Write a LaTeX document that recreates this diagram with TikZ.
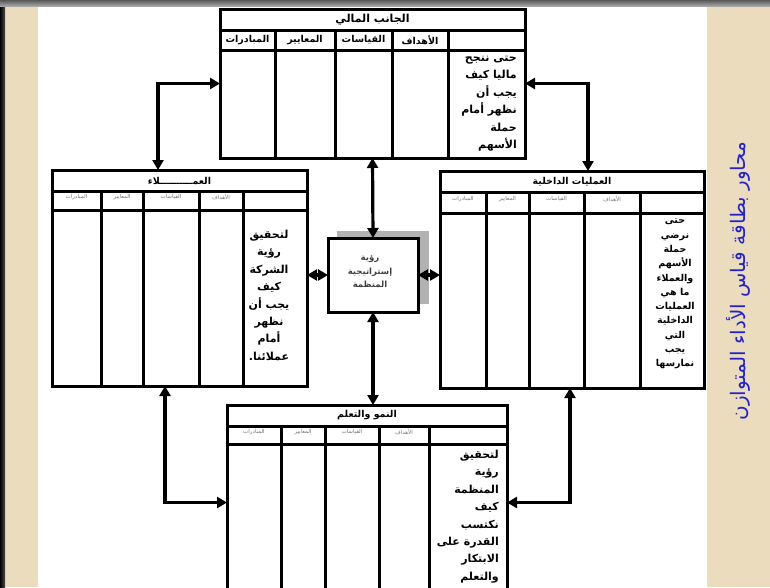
\documentclass[tikz,border=0pt]{standalone}
\usepackage{fontspec}
\usetikzlibrary{arrows.meta}
\newfontfamily\arabicfont[Script=Arabic]{DejaVu Sans}
\TeXXeTstate=1
\newcommand{\artxt}[1]{\beginR #1\endR}
\definecolor{beige}{RGB}{234,220,188}
\definecolor{ttlblue}{RGB}{35,35,205}
\tikzset{
  tbl/.style={draw=black, line width=3pt, fill=white, inner sep=0pt, outer sep=0pt},
  tline/.style={line width=3pt},
  conn/.style={line width=3.2pt, {Triangle[length=10pt,width=11pt]}-{Triangle[length=10pt,width=11pt]}},
  bigtitle/.style={font=\arabicfont\bfseries\fontsize{11}{13}\selectfont, inner sep=0pt},
  smalltitle/.style={font=\arabicfont\bfseries\fontsize{9.5}{11}\selectfont, inner sep=0pt},
  bighead/.style={font=\arabicfont\bfseries\fontsize{9.5}{11}\selectfont, inner sep=0pt},
  smallhead/.style={font=\arabicfont\fontsize{5.5}{7}\selectfont, text=black!55, inner sep=0pt},
  coltext/.style={font=\arabicfont\bfseries\fontsize{11}{17.4}\selectfont, inner sep=0pt},
  midtext/.style={font=\arabicfont\bfseries\fontsize{8.5}{13.5}\selectfont, text=black!75, inner sep=0pt, align=center},
}
\begin{document}
\begin{tikzpicture}[x=1pt,y=-1pt]
\useasboundingbox (0,0) rectangle (770,587);
\clip (0,0) rectangle (770,587);
% background
\fill[white] (0,0) rectangle (770,587);
\fill[beige] (0,0) rectangle (38,587);
\fill[beige] (707,0) rectangle (770,587);
\shade[left color=black, right color=black!70] (0,6) rectangle (5,587);
\shade[top color=black!65, bottom color=black!35] (0,0) rectangle (770,6);

% ===== top box: financial =====
\node[tbl, minimum width=305pt, minimum height=149pt] (fin) at (372.5,83.5) {};
\draw[tline] (220,30) -- (525,30) (220,50) -- (525,50);
\foreach \x in {275,335,392,448} \draw[tline] (\x,30) -- (\x,158);
\node[bigtitle] (finT) at (372.5,19.5) {\artxt{الجانب المالي}};
\node[bighead] (finH1) at (420,40) {\artxt{الأهداف}};
\node[bighead] (finH2) at (363.5,40) {\artxt{القياسات}};
\node[bighead] (finH3) at (305,40) {\artxt{المعايير}};
\node[bighead] (finH4) at (247.5,40) {\artxt{المبادرات}};
\node[coltext, align=right, anchor=north east] (finX) at (517,56)
  {\artxt{حتى ننجح}\\\artxt{ماليا كيف}\\\artxt{يجب أن}\\\artxt{نظهر أمام}\\\artxt{حملة}\\\artxt{الأسهم}};

% ===== left box: customers =====
\node[tbl, minimum width=255pt, minimum height=216pt] (cus) at (179.5,278) {};
\draw[tline] (52,191) -- (307,191) (52,210) -- (307,210);
\foreach \x in {101,143,199,243} \draw[tline] (\x,191) -- (\x,386);
\node[smalltitle] (cusT) at (179.5,180.5) {\artxt{العمــــــــــلاء}};
\node[smallhead] (cusH1) at (221,197) {\artxt{الأهداف}};
\node[smallhead] (cusH2) at (171,197) {\artxt{القياسات}};
\node[smallhead] (cusH3) at (122,197) {\artxt{المعايير}};
\node[smallhead] (cusH4) at (76.5,197) {\artxt{المبادرات}};
\node[coltext, align=center, anchor=north] (cusX) at (269,230)
  {\artxt{لتحقيق}\\\artxt{رؤية}\\\artxt{الشركة}\\\artxt{كيف}\\\artxt{يجب أن}\\\artxt{نظهر}\\\artxt{أمام}\\\artxt{عملائنا.}};

% ===== right box: internal processes =====
\node[tbl, minimum width=264pt, minimum height=217pt] (int) at (572,279.5) {};
\draw[tline] (440,192) -- (704,192) (440,213) -- (704,213);
\foreach \x in {486,529,584,640} \draw[tline] (\x,192) -- (\x,388);
\node[smalltitle] (intT) at (572,181.5) {\artxt{العمليات الداخلية}};
\node[smallhead] (intH1) at (612,199) {\artxt{الأهداف}};
\node[smallhead] (intH2) at (556.5,199) {\artxt{القياسات}};
\node[smallhead] (intH3) at (507.5,199) {\artxt{المعايير}};
\node[smallhead] (intH4) at (463,199) {\artxt{المبادرات}};
\node[coltext, font=\arabicfont\bfseries\fontsize{9.5}{14.3}\selectfont, align=center, anchor=north] (intX) at (675,219)
  {\artxt{حتى}\\\artxt{نرضي}\\\artxt{حملة}\\\artxt{الأسهم}\\\artxt{والعملاء}\\\artxt{ما هي}\\\artxt{العمليات}\\\artxt{الداخلية}\\\artxt{التي}\\\artxt{يجب}\\\artxt{نمارسها}};

% ===== bottom box: learning and growth =====
\node[tbl, minimum width=280pt, minimum height=195pt] (lrn) at (367,502.5) {};
\draw[tline] (227,426) -- (507,426) (227,444) -- (507,444);
\foreach \x in {281,325,379,429} \draw[tline] (\x,426) -- (\x,600);
\node[smalltitle] (lrnT) at (367,415.5) {\artxt{النمو والتعلم}};
\node[smallhead] (lrnH1) at (404,432) {\artxt{الأهداف}};
\node[smallhead] (lrnH2) at (352,432) {\artxt{القياسات}};
\node[smallhead] (lrnH3) at (303,432) {\artxt{المعايير}};
\node[smallhead] (lrnH4) at (254,432) {\artxt{المبادرات}};
\node[coltext, align=right, anchor=north east] (lrnX) at (499,450)
  {\artxt{لتحقيق}\\\artxt{رؤية}\\\artxt{المنظمة}\\\artxt{كيف}\\\artxt{نكتسب}\\\artxt{القدرة على}\\\artxt{الابتكار}\\\artxt{والتعلم}};

% ===== centre: vision and strategy =====
\fill[black!30] (337,231) rectangle (429,304);
\node[tbl, minimum width=90pt, minimum height=74pt] (vis) at (373,275) {};
\node[midtext] (visX) at (370,272) {\artxt{رؤية}\\\artxt{إستراتيجية}\\\artxt{المنظمة}};

% ===== connectors =====
\coordinate (cA) at (158,170);
\coordinate (cB) at (588,171);
\coordinate (cD) at (165,386);
\coordinate (cE) at (570,388);
\draw[conn] (fin.south) -- (vis.north);
\draw[conn] (vis.south) -- (vis.south |- lrn.north);
\draw[conn] (vis.west) -- (vis.west -| cus.east);
\draw[conn] (vis.east) -- (vis.east -| int.west);
\draw[conn] (fin.west) -| (cA);
\draw[conn] (fin.east) -| (cB);
\draw[conn] (cD) |- (lrn.west);
\draw[conn] (cE) |- (lrn.east);

% ===== side title =====
\node[font=\arabicfont\fontsize{20}{24}\selectfont, text=ttlblue, rotate=90, inner sep=0pt] (ttl) at (738,281)
  {\artxt{محاور بطاقة قياس الأداء المتوازن}};
\end{tikzpicture}
\end{document}
